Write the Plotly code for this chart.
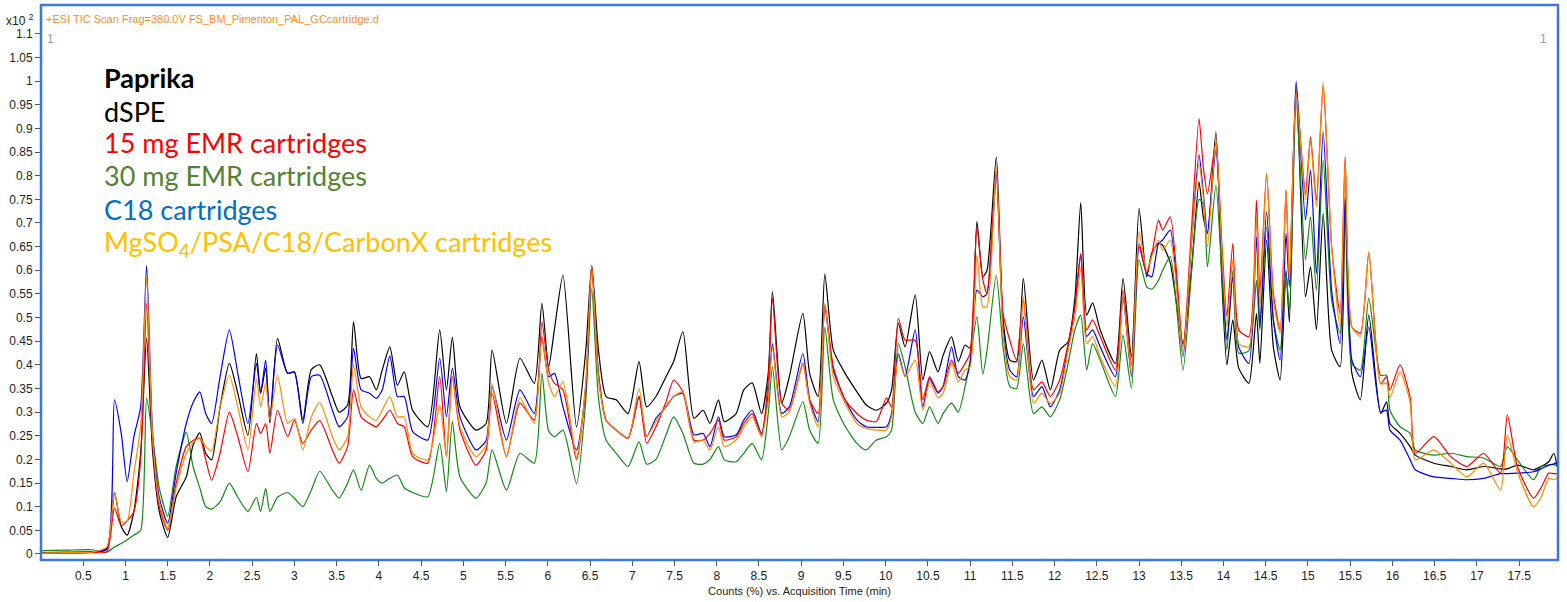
import plotly.graph_objects as go

# Acquisition time (min) of sampled points (peaks / valleys)
time_min = [0.00, 0.30, 0.60, 0.78, 0.87, 0.95, 1.02, 1.10, 1.18, 1.25, 1.32, 1.40, 1.50, 1.60, 1.72, 1.80, 1.88, 1.95, 2.02, 2.12,
            2.23, 2.33, 2.45, 2.55, 2.60, 2.66, 2.71, 2.80, 2.92, 3.00, 3.10, 3.20, 3.30, 3.45, 3.53, 3.63, 3.70, 3.79, 3.89, 3.97,
            4.04, 4.13, 4.22, 4.30, 4.40, 4.58, 4.72, 4.80, 4.87, 4.96, 5.15, 5.27, 5.34, 5.51, 5.67, 5.84, 5.93, 6.01, 6.08, 6.18,
            6.34, 6.45, 6.52, 6.60, 6.69, 6.81, 6.95, 7.08, 7.17, 7.28, 7.40, 7.49, 7.60, 7.73, 7.84, 7.92, 8.02, 8.09, 8.23, 8.32,
            8.42, 8.53, 8.61, 8.66, 8.77, 8.86, 9.02, 9.10, 9.20, 9.28, 9.38, 9.52, 9.66, 9.77, 9.89, 10.01, 10.07, 10.15, 10.23, 10.35,
            10.44, 10.52, 10.62, 10.68, 10.78, 10.86, 10.94, 11.00, 11.08, 11.15, 11.20, 11.31, 11.39, 11.47, 11.55, 11.63, 11.75, 11.85, 11.95, 12.06,
            12.16, 12.24, 12.31, 12.38, 12.45, 12.54, 12.72, 12.81, 12.91, 13.00, 13.09, 13.15, 13.23, 13.28, 13.37, 13.52, 13.62, 13.71, 13.76, 13.81,
            13.91, 13.98, 14.04, 14.11, 14.18, 14.30, 14.39, 14.43, 14.51, 14.59, 14.67, 14.74, 14.78, 14.86, 14.97, 15.03, 15.10, 15.18, 15.28, 15.38,
            15.44, 15.52, 15.62, 15.72, 15.86, 15.93, 15.97, 16.09, 16.21, 16.27, 16.49, 16.69, 16.88, 17.08, 17.28, 17.36, 17.48, 17.67, 17.76, 17.85,
            17.91, 17.95]

# Counts (x10^2) for each extract
dspe = [0.003, 0.003, 0.004, 0.012, 0.130, 0.058, 0.040, 0.090, 0.213, 0.457, 0.220, 0.090, 0.035, 0.121, 0.163, 0.230, 0.256, 0.213, 0.199, 0.311,
        0.403, 0.340, 0.251, 0.424, 0.340, 0.393, 0.277, 0.456, 0.382, 0.385, 0.283, 0.390, 0.400, 0.333, 0.300, 0.315, 0.491, 0.371, 0.375, 0.347,
        0.389, 0.438, 0.357, 0.385, 0.304, 0.269, 0.474, 0.347, 0.458, 0.311, 0.262, 0.276, 0.431, 0.276, 0.414, 0.361, 0.530, 0.396, 0.477, 0.590,
        0.269, 0.431, 0.610, 0.431, 0.333, 0.326, 0.297, 0.407, 0.311, 0.333, 0.375, 0.407, 0.470, 0.287, 0.304, 0.276, 0.326, 0.280, 0.297, 0.347,
        0.362, 0.297, 0.382, 0.555, 0.319, 0.375, 0.509, 0.382, 0.333, 0.592, 0.431, 0.382, 0.343, 0.315, 0.304, 0.319, 0.347, 0.488, 0.438, 0.548,
        0.368, 0.428, 0.385, 0.420, 0.459, 0.407, 0.442, 0.435, 0.703, 0.586, 0.600, 0.840, 0.495, 0.410, 0.407, 0.583, 0.368, 0.410, 0.347, 0.431,
        0.449, 0.540, 0.743, 0.505, 0.531, 0.474, 0.403, 0.583, 0.417, 0.731, 0.586, 0.636, 0.657, 0.653, 0.615, 0.445, 0.600, 0.787, 0.713, 0.678,
        0.893, 0.579, 0.400, 0.495, 0.393, 0.361, 0.509, 0.403, 0.664, 0.438, 0.368, 0.600, 0.490, 0.995, 0.544, 0.607, 0.474, 0.720, 0.431, 0.396,
        0.755, 0.382, 0.326, 0.505, 0.297, 0.322, 0.276, 0.255, 0.227, 0.209, 0.192, 0.185, 0.178, 0.185, 0.180, 0.180, 0.188, 0.178, 0.185, 0.195,
        0.213, 0.185]

emr15 = [0.002, 0.002, 0.003, 0.005, 0.097, 0.060, 0.070, 0.090, 0.199, 0.530, 0.240, 0.100, 0.050, 0.150, 0.227, 0.240, 0.245, 0.200, 0.156, 0.213,
         0.300, 0.248, 0.174, 0.276, 0.255, 0.276, 0.213, 0.304, 0.248, 0.283, 0.234, 0.262, 0.282, 0.220, 0.192, 0.227, 0.347, 0.290, 0.276, 0.269,
         0.283, 0.304, 0.276, 0.269, 0.206, 0.192, 0.375, 0.206, 0.375, 0.262, 0.188, 0.220, 0.340, 0.206, 0.319, 0.283, 0.491, 0.389, 0.361, 0.347,
         0.199, 0.360, 0.610, 0.380, 0.283, 0.262, 0.245, 0.333, 0.234, 0.269, 0.322, 0.368, 0.343, 0.241, 0.241, 0.255, 0.283, 0.241, 0.248, 0.276,
         0.297, 0.252, 0.368, 0.541, 0.319, 0.304, 0.403, 0.326, 0.297, 0.527, 0.396, 0.326, 0.297, 0.283, 0.280, 0.330, 0.311, 0.498, 0.452, 0.452,
         0.326, 0.375, 0.343, 0.354, 0.410, 0.382, 0.403, 0.424, 0.692, 0.580, 0.551, 0.810, 0.509, 0.452, 0.410, 0.537, 0.347, 0.364, 0.333, 0.368,
         0.445, 0.523, 0.636, 0.474, 0.495, 0.460, 0.389, 0.558, 0.400, 0.657, 0.593, 0.632, 0.706, 0.685, 0.713, 0.438, 0.685, 0.921, 0.819, 0.762,
         0.870, 0.657, 0.502, 0.657, 0.474, 0.460, 0.748, 0.551, 0.805, 0.551, 0.474, 0.770, 0.579, 0.977, 0.762, 0.882, 0.748, 0.990, 0.650, 0.509,
         0.840, 0.480, 0.467, 0.636, 0.360, 0.375, 0.347, 0.400, 0.330, 0.213, 0.248, 0.206, 0.185, 0.213, 0.171, 0.294, 0.185, 0.118, 0.140, 0.171,
         0.170, 0.170]

emr30 = [0.007, 0.008, 0.009, 0.004, 0.015, 0.022, 0.030, 0.040, 0.050, 0.330, 0.250, 0.140, 0.080, 0.185, 0.257, 0.185, 0.140, 0.100, 0.095, 0.110,
         0.150, 0.120, 0.090, 0.120, 0.090, 0.139, 0.090, 0.120, 0.130, 0.118, 0.100, 0.135, 0.175, 0.135, 0.118, 0.150, 0.178, 0.135, 0.188, 0.160,
         0.150, 0.160, 0.167, 0.140, 0.130, 0.121, 0.234, 0.132, 0.280, 0.163, 0.118, 0.150, 0.220, 0.135, 0.213, 0.192, 0.382, 0.260, 0.248, 0.262,
         0.149, 0.326, 0.562, 0.330, 0.241, 0.213, 0.185, 0.237, 0.190, 0.200, 0.252, 0.290, 0.255, 0.192, 0.190, 0.200, 0.227, 0.199, 0.195, 0.213,
         0.234, 0.199, 0.297, 0.396, 0.220, 0.248, 0.322, 0.262, 0.234, 0.480, 0.326, 0.270, 0.234, 0.220, 0.241, 0.248, 0.262, 0.445, 0.396, 0.300,
         0.276, 0.311, 0.276, 0.297, 0.319, 0.300, 0.354, 0.410, 0.502, 0.380, 0.430, 0.590, 0.438, 0.354, 0.350, 0.445, 0.297, 0.311, 0.290, 0.326,
         0.403, 0.474, 0.505, 0.389, 0.445, 0.410, 0.333, 0.463, 0.350, 0.622, 0.565, 0.560, 0.579, 0.600, 0.629, 0.389, 0.593, 0.750, 0.741, 0.607,
         0.780, 0.593, 0.431, 0.600, 0.425, 0.430, 0.579, 0.474, 0.692, 0.495, 0.431, 0.593, 0.516, 0.960, 0.622, 0.713, 0.558, 0.833, 0.537, 0.467,
         0.727, 0.403, 0.389, 0.541, 0.378, 0.378, 0.304, 0.269, 0.255, 0.220, 0.209, 0.213, 0.206, 0.203, 0.185, 0.227, 0.199, 0.157, 0.185, 0.188,
         0.190, 0.185]

c18 = [0.003, 0.004, 0.005, 0.010, 0.326, 0.255, 0.153, 0.248, 0.311, 0.610, 0.260, 0.120, 0.065, 0.171, 0.276, 0.320, 0.343, 0.297, 0.276, 0.375,
       0.474, 0.382, 0.276, 0.403, 0.340, 0.410, 0.283, 0.442, 0.382, 0.385, 0.276, 0.375, 0.378, 0.304, 0.269, 0.290, 0.435, 0.347, 0.340, 0.329,
       0.347, 0.419, 0.333, 0.333, 0.259, 0.241, 0.414, 0.290, 0.393, 0.290, 0.220, 0.240, 0.354, 0.241, 0.347, 0.297, 0.459, 0.375, 0.382, 0.311,
       0.220, 0.347, 0.610, 0.380, 0.283, 0.262, 0.245, 0.333, 0.248, 0.287, 0.311, 0.333, 0.340, 0.252, 0.255, 0.227, 0.290, 0.248, 0.252, 0.283,
       0.304, 0.255, 0.340, 0.445, 0.297, 0.311, 0.424, 0.326, 0.280, 0.523, 0.389, 0.326, 0.283, 0.269, 0.268, 0.269, 0.297, 0.424, 0.375, 0.474,
       0.311, 0.371, 0.340, 0.354, 0.438, 0.375, 0.368, 0.403, 0.558, 0.544, 0.551, 0.800, 0.480, 0.389, 0.375, 0.502, 0.333, 0.354, 0.311, 0.347,
       0.438, 0.523, 0.632, 0.460, 0.474, 0.438, 0.375, 0.544, 0.375, 0.650, 0.593, 0.586, 0.657, 0.664, 0.685, 0.417, 0.657, 0.844, 0.766, 0.678,
       0.854, 0.636, 0.452, 0.586, 0.438, 0.403, 0.671, 0.480, 0.724, 0.495, 0.410, 0.678, 0.565, 1.000, 0.706, 0.812, 0.593, 0.893, 0.558, 0.445,
       0.748, 0.410, 0.375, 0.480, 0.300, 0.304, 0.262, 0.241, 0.199, 0.178, 0.163, 0.160, 0.157, 0.160, 0.170, 0.170, 0.171, 0.174, 0.180, 0.188,
       0.190, 0.195]

mgso4 = [0.002, 0.003, 0.004, 0.015, 0.130, 0.068, 0.070, 0.171, 0.270, 0.590, 0.250, 0.110, 0.055, 0.140, 0.213, 0.235, 0.245, 0.227, 0.218, 0.311,
         0.378, 0.311, 0.220, 0.371, 0.311, 0.361, 0.283, 0.378, 0.276, 0.287, 0.220, 0.290, 0.320, 0.248, 0.220, 0.248, 0.400, 0.311, 0.290, 0.283,
         0.304, 0.333, 0.290, 0.290, 0.213, 0.199, 0.315, 0.206, 0.375, 0.269, 0.206, 0.230, 0.361, 0.206, 0.330, 0.276, 0.459, 0.361, 0.333, 0.364,
         0.206, 0.360, 0.610, 0.370, 0.283, 0.262, 0.245, 0.350, 0.248, 0.280, 0.313, 0.333, 0.343, 0.237, 0.241, 0.220, 0.269, 0.227, 0.241, 0.269,
         0.290, 0.248, 0.326, 0.438, 0.290, 0.301, 0.400, 0.319, 0.269, 0.530, 0.375, 0.319, 0.276, 0.266, 0.262, 0.262, 0.290, 0.417, 0.375, 0.410,
         0.304, 0.364, 0.330, 0.340, 0.403, 0.364, 0.389, 0.396, 0.632, 0.523, 0.523, 0.820, 0.466, 0.375, 0.368, 0.544, 0.319, 0.340, 0.318, 0.340,
         0.431, 0.502, 0.604, 0.445, 0.460, 0.417, 0.354, 0.544, 0.380, 0.681, 0.600, 0.629, 0.664, 0.643, 0.664, 0.424, 0.657, 0.826, 0.756, 0.650,
         0.875, 0.643, 0.480, 0.622, 0.445, 0.438, 0.713, 0.516, 0.805, 0.537, 0.467, 0.770, 0.579, 0.975, 0.748, 0.875, 0.734, 0.998, 0.650, 0.480,
         0.833, 0.480, 0.460, 0.640, 0.360, 0.361, 0.330, 0.385, 0.320, 0.199, 0.220, 0.192, 0.163, 0.192, 0.135, 0.252, 0.174, 0.100, 0.120, 0.160,
         0.157, 0.160]

series_names = ["dSPE", "30 mg EMR cartridges", "C18 cartridges", "15 mg EMR cartridges", "MgSO4/PSA/C18/CarbonX cartridges"]
series_values = [dspe, emr30, c18, emr15, mgso4]
line_colors = ["#000000", "#118a11", "#0000ee", "#ff0000", "#ff8a00"]

y_ticks = [round(0.05 * i, 2) for i in range(23)]
y_tick_text = ["0" if v == 0 else ("1" if v == 1 else f"{v:g}") for v in y_ticks]
x_ticks = [0.5 * i for i in range(1, 36)]
x_tick_text = [f"{v:g}" for v in x_ticks]

fig = go.Figure()
for name, vals, col in zip(series_names, series_values, line_colors):
    fig.add_trace(go.Scatter(x=time_min, y=vals, mode="lines", name=name,
                             line=dict(color=col, width=1.2, shape="spline", smoothing=0.6),
                             hoverinfo="x+y+name"))

axis_font = dict(family="Liberation Sans, Arial, sans-serif", size=12, color="#222222")
fig.update_layout(
    width=1567, height=602,
    margin=dict(l=41, r=9, t=5, b=42),
    paper_bgcolor="white", plot_bgcolor="white",
    showlegend=False,
    xaxis=dict(range=[0, 17.96], tickvals=x_ticks, ticktext=x_tick_text, ticks="outside", ticklen=5,
               tickcolor="#555555", showline=True, linecolor="#777777", linewidth=1,
               showgrid=False, zeroline=False, tickfont=axis_font,
               title=dict(text="Counts (%) vs. Acquisition Time (min)", font=dict(family="Liberation Sans, Arial, sans-serif", size=11, color="#222222"), standoff=4)),
    yaxis=dict(range=[-0.0127, 1.161], tickvals=y_ticks, ticktext=y_tick_text, ticks="outside", ticklen=5,
               tickcolor="#555555", showline=True, linecolor="#777777", linewidth=1,
               showgrid=False, zeroline=False, tickfont=axis_font),
)

# blue frame
fig.add_shape(type="rect", xref="paper", yref="paper", x0=0, y0=0, x1=1, y1=1,
              line=dict(color="#3d78d6", width=2.5), layer="above")

ann = []
ann.append(dict(text="+ESI TIC Scan Frag=380.0V FS_BM_Pimenton_PAL_GCcartridge.d", x=0.002, y=0.975,
                xanchor="left", yanchor="middle", font=dict(family="Liberation Sans, Arial", size=11, color="#ff8c1a")))
ann.append(dict(text="x10 <sup>2</sup>", x=-0.0245, y=0.973, xanchor="left", yanchor="middle",
                font=dict(family="Liberation Sans, Arial", size=12, color="#222222")))
ann.append(dict(text="1", x=0.0025, y=0.938, xanchor="left", yanchor="middle",
                font=dict(family="Liberation Sans, Arial", size=12, color="#999999")))
ann.append(dict(text="1", x=0.994, y=0.938, xanchor="right", yanchor="middle",
                font=dict(family="Liberation Sans, Arial", size=12, color="#999999")))

legend_items = [("<b>Paprika</b>", "#000000", 0.8685),
                ("dSPE", "#000000", 0.809),
                ("15 mg EMR cartridges", "#ff0000", 0.7514),
                ("30 mg EMR cartridges", "#548235", 0.6919),
                ("C18 cartridges", "#0070c0", 0.6324),
                ("MgSO<sub>4</sub>/PSA/C18/CarbonX cartridges", "#ffc000", 0.5705)]
for txt, col, yy in legend_items:
    ann.append(dict(text=txt, x=0.0403, y=yy, xanchor="left", yanchor="middle",
                    font=dict(family="Lato, sans-serif", size=27, color=col)))

for a in ann:
    a.update(xref="paper", yref="paper", showarrow=False)
fig.update_layout(annotations=ann)

fig.write_html("out.html")
